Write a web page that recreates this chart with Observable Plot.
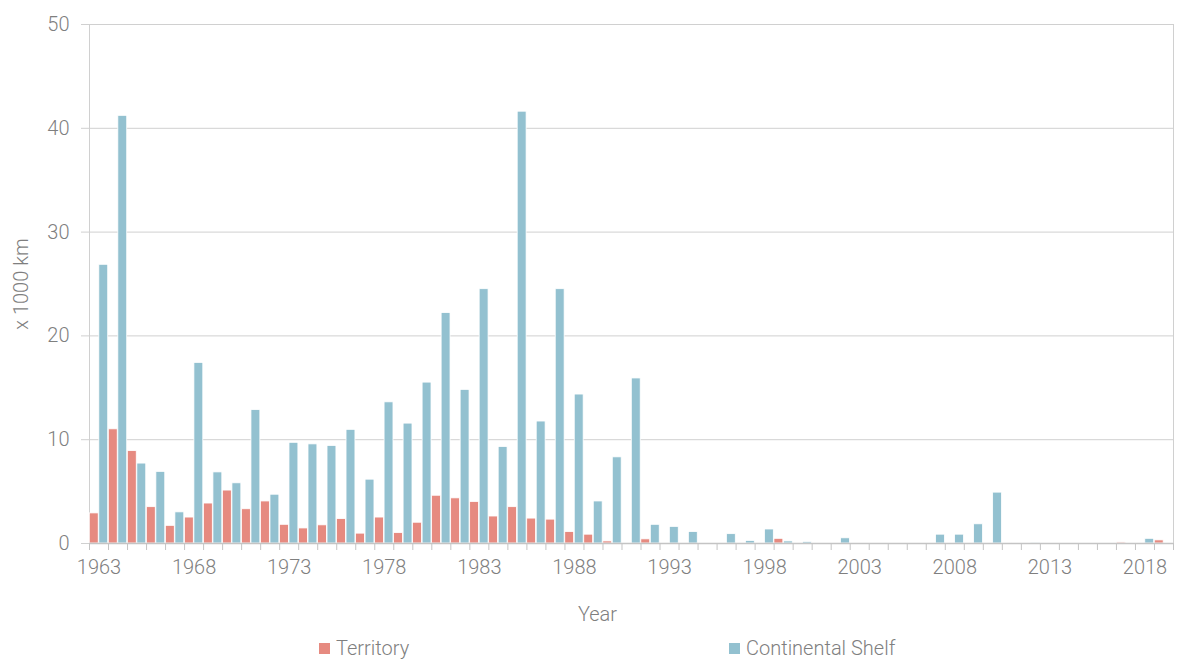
<!DOCTYPE html>
<html>
<head>
<meta charset="utf-8">
<script src="https://cdn.jsdelivr.net/npm/d3@7"></script>
<script src="https://cdn.jsdelivr.net/npm/@observablehq/plot@0.6"></script>
<style>
  html, body { margin: 0; padding: 0; background: #ffffff; }
  body { font-family: Roboto, "Liberation Sans", sans-serif; font-weight: 300; }
  #chart svg { display: block; }
  #legend { position: relative; width: 1179px; height: 32px; font-size: 20px; color: #7f7f7f; }
  .item { position: absolute; top: 6px; display: flex; align-items: center; white-space: nowrap; }
  .sw { width: 11px; height: 11px; margin-right: 6px; display: inline-block; }
</style>
</head>
<body>
<div id="chart"></div>
<div id="legend"></div>
<script>
const years = [1963,1964,1965,1966,1967,1968,1969,1970,1971,1972,1973,1974,1975,1976,1977,1978,1979,1980,1981,1982,1983,1984,1985,1986,1987,1988,1989,1990,1991,1992,1993,1994,1995,1996,1997,1998,1999,2000,2001,2002,2003,2004,2005,2006,2007,2008,2009,2010,2011,2012,2013,2014,2015,2016,2017,2018,2019];

const territory = [2.9,11.0,8.9,3.5,1.7,2.5,3.85,5.1,3.3,4.05,1.8,1.45,1.75,2.35,0.95,2.5,1.0,2.0,4.6,4.35,4.0,2.6,3.5,2.4,2.3,1.1,0.85,0.2,0,0.4,0,0,0,0,0,0,0.45,0,0.05,0,0,0,0,0,0,0,0,0,0.05,0,0,0,0,0,0.1,0,0.3];

const continentalShelf = [26.85,41.2,7.7,6.9,3.0,17.4,6.85,5.8,12.85,4.7,9.7,9.55,9.4,10.95,6.15,13.6,11.55,15.5,22.2,14.8,24.5,9.3,41.6,11.75,24.5,14.35,4.05,8.3,15.9,1.8,1.6,1.1,0,0.9,0.25,1.35,0.2,0.15,0,0.5,0,0,0,0,0.85,0.85,1.85,4.9,0,0.03,0,0,0,0,0,0.45,0];

const seriesNames = ["Territory", "Continental Shelf"];
const seriesColors = ["#E68A80", "#93C1D0"];
const yTicks = [0, 10, 20, 30, 40, 50];
const xLabelYears = [1963, 1968, 1973, 1978, 1983, 1988, 1993, 1998, 2003, 2008, 2013, 2018];

// long table; each year band split in two halves (left: Territory, right: Continental Shelf)
const rows = [];
years.forEach((yr, i) => {
  rows.push({year: yr, series: seriesNames[0], value: territory[i], x1: yr - 0.5, x2: yr});
  rows.push({year: yr, series: seriesNames[1], value: continentalShelf[i], x1: yr, x2: yr + 0.5});
});
const boundaries = years.map(y => y - 0.5).concat([years[years.length - 1] + 0.5]);

const gray = "#7f7f7f";
const lineGray = "#d0d0d0";

const chart = Plot.plot({
  width: 1179,
  height: 630,
  marginLeft: 89,
  marginRight: 6,
  marginTop: 24,
  marginBottom: 87,
  style: { fontFamily: "Roboto, 'Liberation Sans', sans-serif", fontWeight: 300, fontSize: "20px", color: gray, background: "#ffffff" },
  x: { domain: [years[0] - 0.5, years[years.length - 1] + 0.5] },
  y: { domain: [0, 50] },
  color: { domain: seriesNames, range: seriesColors },
  marks: [
    Plot.gridY(yTicks, { stroke: lineGray, strokeOpacity: 1, strokeWidth: 1 }),
    Plot.frame({ stroke: lineGray, strokeWidth: 1 }),
    Plot.rectY(rows, {
      x1: "x1", x2: "x2", y: "value",
      fill: "series",
      stroke: "#ffffff", strokeWidth: 0.8,
      insetLeft: 0.3, insetRight: 0.3
    }),
    Plot.ruleY([0], { stroke: "#c4c4c4", strokeWidth: 1.6 }),
    Plot.axisY(yTicks, {
      tickSize: 8, tickPadding: 12, stroke: lineGray, fontSize: 20, fill: gray,
      label: "x 1000 km", labelAnchor: "center", labelArrow: "none", labelOffset: 76
    }),
    Plot.axisX(boundaries, { tickSize: 7, tickFormat: () => "", stroke: "#c4c4c4", label: null }),
    Plot.axisX(xLabelYears, {
      tickSize: 0, tickPadding: 16, fontSize: 20, fill: gray, tickFormat: d => String(d),
      label: null
    }),
    Plot.text(["Year"], { frameAnchor: "bottom", dy: 77, dx: -34, fontSize: 20, fill: gray })
  ]
});
document.getElementById("chart").appendChild(chart);

// legend below the SVG
const legend = document.getElementById("legend");
const legendLeft = [319, 729];
seriesNames.forEach((name, i) => {
  const item = document.createElement("div");
  item.className = "item";
  item.style.left = legendLeft[i] + "px";
  const sw = document.createElement("span");
  sw.className = "sw";
  sw.style.background = seriesColors[i];
  const t = document.createElement("span");
  t.textContent = name;
  item.appendChild(sw);
  item.appendChild(t);
  legend.appendChild(item);
});
</script>
</body>
</html>
